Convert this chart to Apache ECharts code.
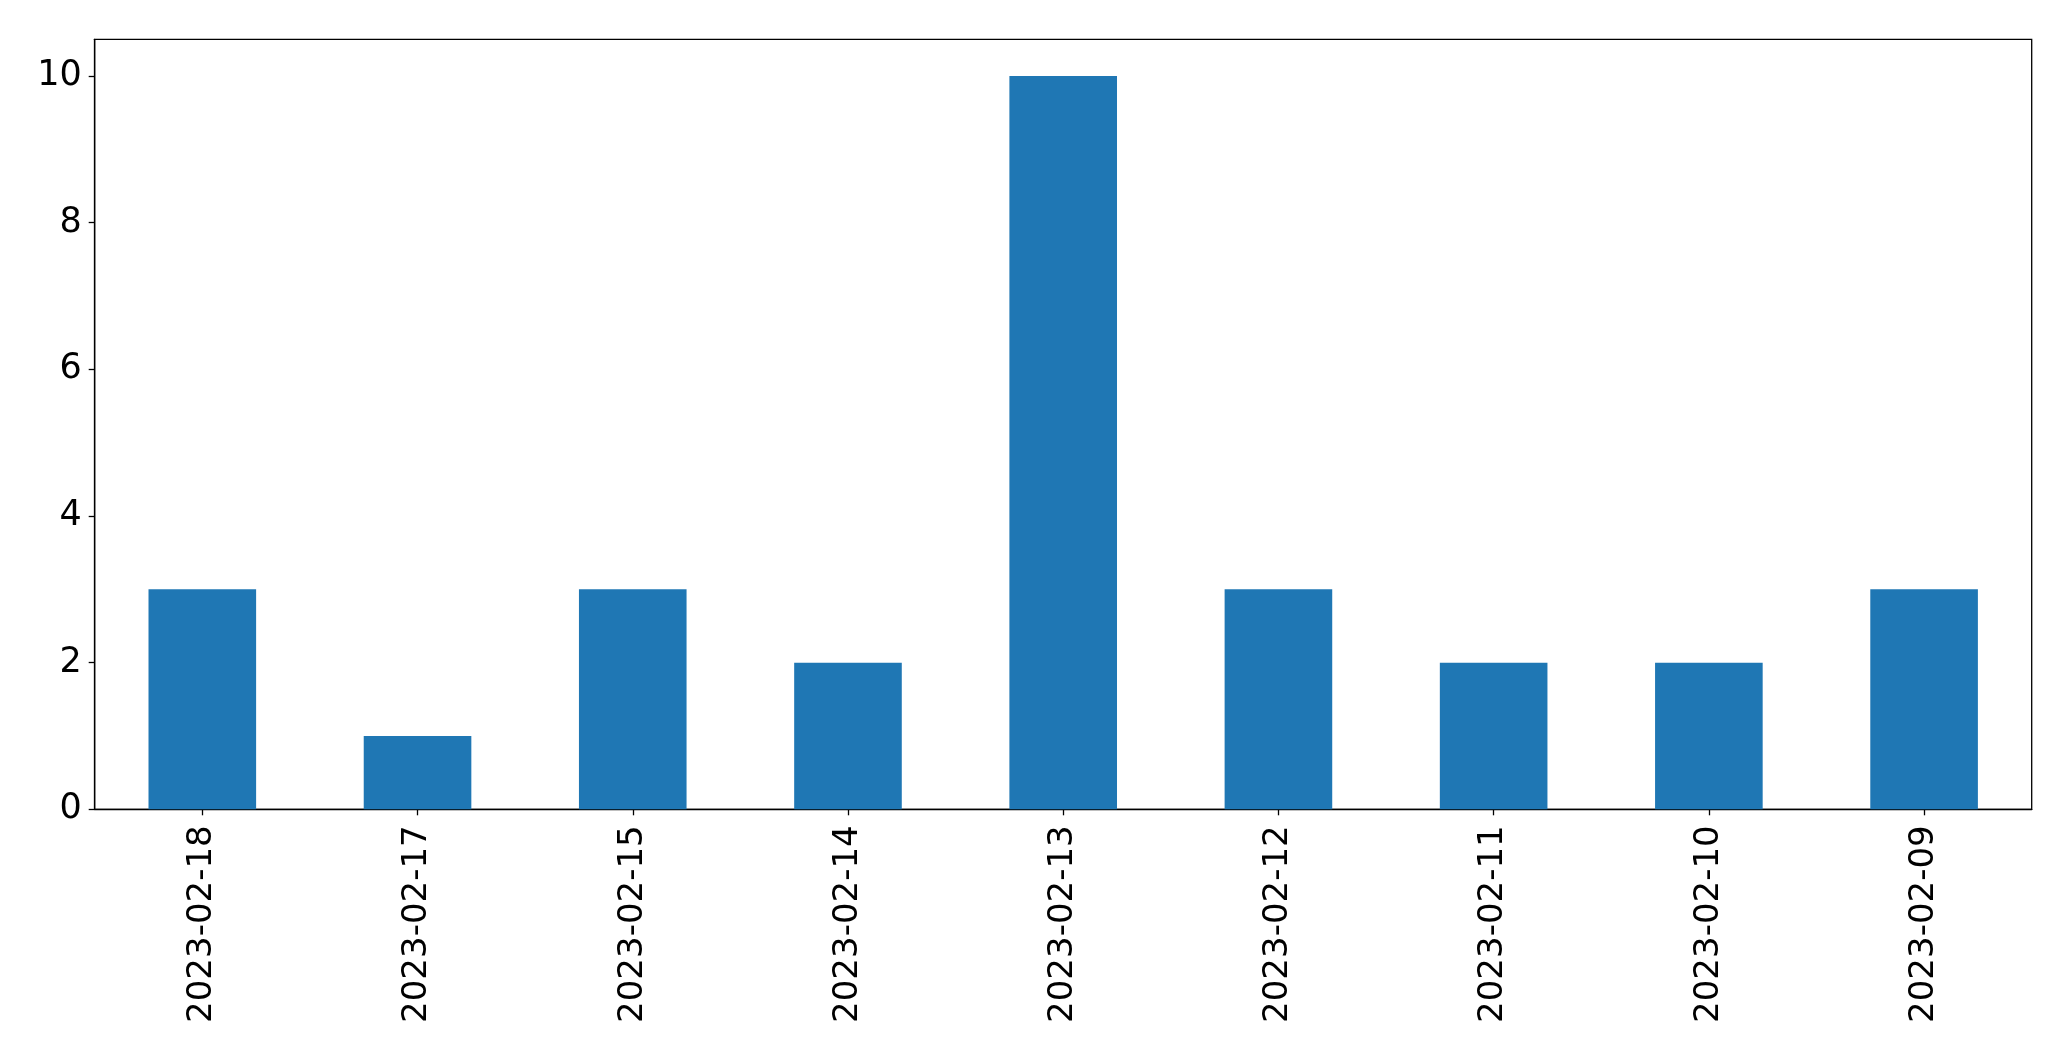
<!DOCTYPE html>
<html>
<head>
<meta charset="utf-8">
<script src="https://cdn.jsdelivr.net/npm/echarts@6/dist/echarts.min.js"></script>
<style>
html,body{margin:0;padding:0;background:#fff;}
#chart{width:2071px;height:1061px;}
</style>
</head>
<body>
<div id="chart"></div>
<script>
const categories = ["2023-02-18","2023-02-17","2023-02-15","2023-02-14","2023-02-13","2023-02-12","2023-02-11","2023-02-10","2023-02-09"];
const counts = [3, 1, 3, 2, 10, 3, 2, 2, 3];
const yTicks = [0, 2, 4, 6, 8, 10];

const chart = echarts.init(document.getElementById('chart'), null, {renderer: 'canvas'});
const font = 'DejaVu Sans';
chart.setOption({
  animation: false,
  backgroundColor: '#fff',
  grid: {
    left: 94.7, right: 39.3, top: 39.3, bottom: 251.7,
    show: true, borderColor: '#000', borderWidth: 1.3, backgroundColor: 'transparent'
  },
  xAxis: {
    type: 'category',
    data: categories,
    boundaryGap: true,
    axisLine: {show: true, lineStyle: {color: '#000', width: 1.3}},
    axisTick: {show: true, alignWithLabel: true, length: 6, lineStyle: {color: '#000', width: 1.3}},
    axisLabel: {rotate: 90, interval: 0, margin: 16, color: '#000', fontFamily: font, fontSize: 34},
    splitLine: {show: false}
  },
  yAxis: {
    type: 'value',
    min: 0, max: 10.5, interval: 2,
    axisLine: {show: true, lineStyle: {color: '#000', width: 1.3}},
    axisTick: {show: true, length: 6, lineStyle: {color: '#000', width: 1.3}},
    axisLabel: {
      margin: 13, color: '#000', fontFamily: font, fontSize: 35, showMaxLabel: false,
      formatter: v => (yTicks.indexOf(v) >= 0 ? String(v) : '')
    },
    splitLine: {show: false}
  },
  series: [{
    type: 'bar',
    data: counts,
    barWidth: '50%',
    itemStyle: {color: '#1f77b4'}
  }]
});
</script>
</body>
</html>
